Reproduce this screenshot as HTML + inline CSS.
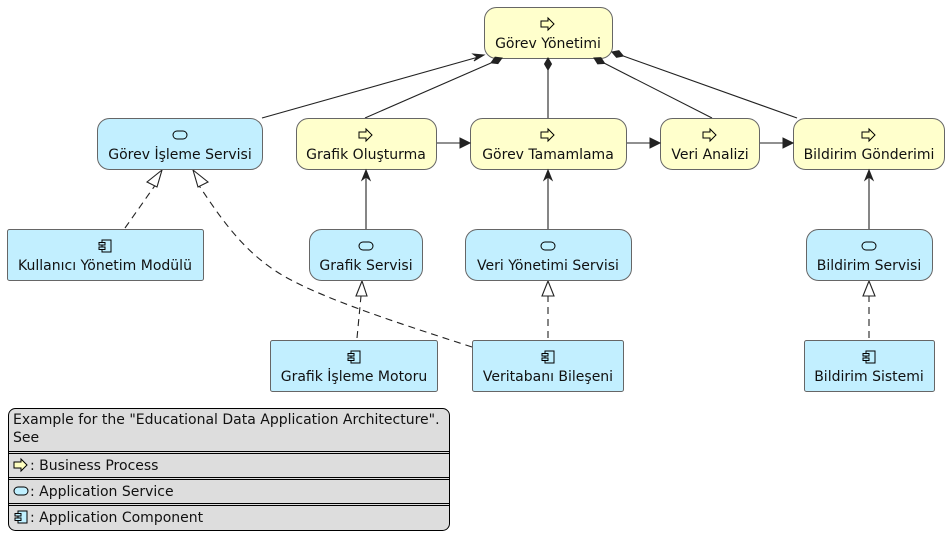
<!DOCTYPE html>
<html><head><meta charset="utf-8"><style>
html,body{margin:0;padding:0;background:#fff;}
svg{display:block;font-family:"DejaVu Sans","Liberation Sans",sans-serif;}
</style></head><body>
<svg width="949" height="549" viewBox="0 0 949 549" xmlns="http://www.w3.org/2000/svg">
<defs>
<g id="proc"><path d="M-7,-3 h7 v-3 l6,6 l-6,6 v-3 h-7 z" fill="#ffffc0" stroke="#000" stroke-width="1"/></g>
<g id="svc"><rect x="-7" y="-4" width="14" height="8" rx="4" fill="#c0f0ff" stroke="#000" stroke-width="1"/></g>
<g id="comp"><rect x="-3" y="-6" width="9" height="12" fill="#c0f0ff" stroke="#000" stroke-width="1"/><rect x="-6" y="-3.5" width="6" height="2.5" fill="#c0f0ff" stroke="#000" stroke-width="1"/><rect x="-6" y="1" width="6" height="2.5" fill="#c0f0ff" stroke="#000" stroke-width="1"/></g>
</defs>
<g stroke="#222" stroke-width="1.1" fill="none">
<line x1="365" y1="118" x2="491" y2="63"/>
<line x1="548" y1="118" x2="548" y2="70"/>
<line x1="712" y1="118" x2="604.7" y2="63.4"/>
<line x1="797" y1="118" x2="623.3" y2="56"/>
<line x1="262" y1="118" x2="482" y2="56"/>
<line x1="436" y1="143" x2="468" y2="143"/>
<line x1="626" y1="143" x2="658" y2="143"/>
<line x1="759" y1="143" x2="791" y2="143"/>
<line x1="366" y1="229" x2="366" y2="171"/>
<line x1="548" y1="229" x2="548" y2="171"/>
<line x1="869" y1="229" x2="869" y2="171"/>
<g stroke-dasharray="7,5">
<line x1="125" y1="228" x2="156" y2="184"/>
<path d="M472,347 C420,330 340,305 295,282 C250,260 225,225 198,184"/>
<line x1="357" y1="338" x2="361" y2="296"/>
<line x1="548" y1="338" x2="548" y2="296"/>
<line x1="869" y1="338" x2="869" y2="296"/>
</g>
</g>
<g fill="#fff" stroke="#222" stroke-width="1.1">
<path d="M162,170 l-15,12 l10,5 z"/>
<path d="M193,170 l15,12 l-10,5 z"/>
<path d="M362,281 l-6,15 h11 z"/>
<path d="M548,281 l-6,15 h12 z"/>
<path d="M869,281 l-6,15 h12 z"/>
</g>
<g stroke="#666" stroke-width="1">
<rect x="484.5" y="7.5" width="128" height="51" rx="12" fill="#ffffcc"/>
<rect x="97.5" y="118.5" width="165" height="51" rx="12" fill="#c2efff"/>
<rect x="296.5" y="118.5" width="140" height="51" rx="12" fill="#ffffcc"/>
<rect x="470.5" y="118.5" width="156" height="51" rx="12" fill="#ffffcc"/>
<rect x="660.5" y="118.5" width="99" height="51" rx="12" fill="#ffffcc"/>
<rect x="793.5" y="118.5" width="151" height="51" rx="12" fill="#ffffcc"/>
<rect x="7.5" y="229.5" width="196" height="51" rx="2" fill="#c2efff"/>
<rect x="309.5" y="229.5" width="113" height="51" rx="12" fill="#c2efff"/>
<rect x="465.5" y="229.5" width="166" height="51" rx="12" fill="#c2efff"/>
<rect x="806.5" y="229.5" width="126" height="51" rx="12" fill="#c2efff"/>
<rect x="270.5" y="340.5" width="167" height="51" rx="2" fill="#c2efff"/>
<rect x="472.5" y="340.5" width="151" height="51" rx="2" fill="#c2efff"/>
<rect x="804.5" y="340.5" width="130" height="51" rx="2" fill="#c2efff"/>
</g>
<g fill="#222" stroke="#222" stroke-width="1">
<path d="M502,58 L497.9,63.6 L491,62.8 L495.1,57.2 z"/>
<path d="M548,58 L551.5,64 L548,70 L544.5,64 z"/>
<path d="M594,58 L597.7,63.8 L604.7,63.4 L600.9,57.6 z"/>
<path d="M612,52 L616.5,57.3 L623.3,56 L618.9,50.7 z"/>
<path d="M470,143 l-10,-5 v10 z"/>
<path d="M660,143 l-10,-5 v10 z"/>
<path d="M793,143 l-10,-5 v10 z"/>
<path d="M484,55 l-11,-1 l4,3 l-3,4 z"/>
<path d="M366,170 l-4,10 l4,-3 l4,3 z"/>
<path d="M548,170 l-4,10 l4,-3 l4,3 z"/>
<path d="M869,170 l-4,10 l4,-3 l4,3 z"/>
</g>
<use href="#proc" x="548" y="24"/>
<use href="#svc" x="180" y="135"/>
<use href="#proc" x="366" y="135"/>
<use href="#proc" x="548" y="135"/>
<use href="#proc" x="710" y="135"/>
<use href="#proc" x="869" y="135"/>
<use href="#comp" x="105" y="246"/>
<use href="#svc" x="366" y="246"/>
<use href="#svc" x="548" y="246"/>
<use href="#svc" x="869" y="246"/>
<use href="#comp" x="354" y="357"/>
<use href="#comp" x="548" y="357"/>
<use href="#comp" x="869" y="357"/>
<g font-size="14" fill="#111" text-anchor="middle">
<text x="548" y="48">Görev Yönetimi</text>
<text x="180" y="159">Görev İşleme Servisi</text>
<text x="366" y="159">Grafik Oluşturma</text>
<text x="548" y="159">Görev Tamamlama</text>
<text x="710" y="159">Veri Analizi</text>
<text x="869" y="159">Bildirim Gönderimi</text>
<text x="105" y="270">Kullanıcı Yönetim Modülü</text>
<text x="366" y="270">Grafik Servisi</text>
<text x="548" y="270">Veri Yönetimi Servisi</text>
<text x="869" y="270">Bildirim Servisi</text>
<text x="354" y="381">Grafik İşleme Motoru</text>
<text x="548" y="381">Veritabanı Bileşeni</text>
<text x="869" y="381">Bildirim Sistemi</text>
</g>
<rect x="8.5" y="408.5" width="441" height="122" rx="7" fill="#dddddd" stroke="#000" stroke-width="1"/>
<g stroke="#000" stroke-width="1">
<line x1="9" y1="451.5" x2="449" y2="451.5"/><line x1="9" y1="453.5" x2="449" y2="453.5"/>
<line x1="9" y1="477.5" x2="449" y2="477.5"/><line x1="9" y1="479.5" x2="449" y2="479.5"/>
<line x1="9" y1="503.5" x2="449" y2="503.5"/><line x1="9" y1="505.5" x2="449" y2="505.5"/>
</g>
<use href="#proc" x="21" y="465"/>
<use href="#svc" x="21" y="491"/>
<use href="#comp" x="21" y="517"/>
<g font-size="14" fill="#111">
<text x="13" y="424">Example for the "Educational Data Application Architecture".</text>
<text x="13" y="442">See</text>
<text x="30" y="470">: Business Process</text>
<text x="30" y="496">: Application Service</text>
<text x="30" y="522">: Application Component</text>
</g>
</svg>
</body></html>
